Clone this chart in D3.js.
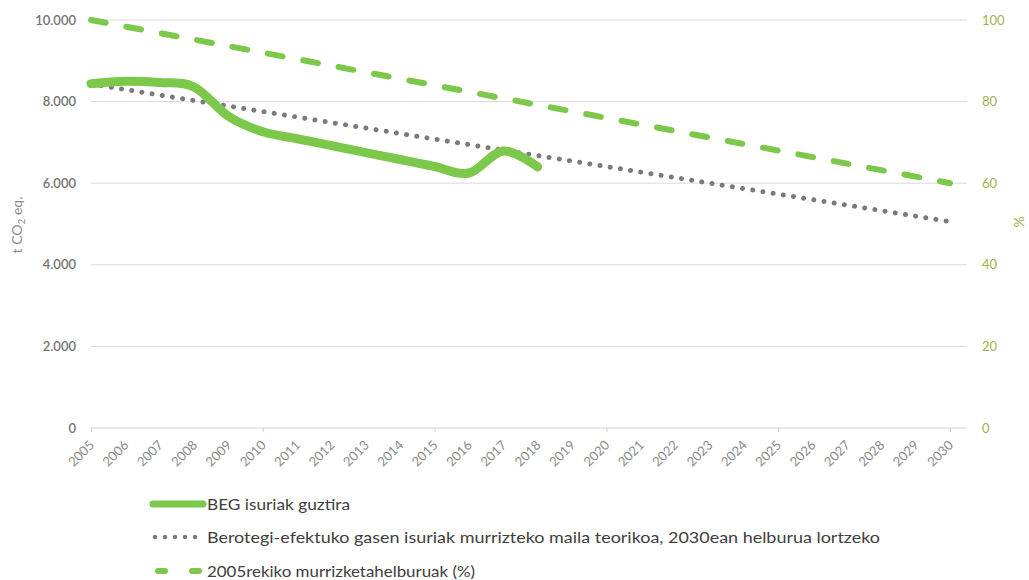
<!DOCTYPE html>
<html>
<head>
<meta charset="utf-8">
<script src="https://cdn.jsdelivr.net/npm/d3@7"></script>
<style>
  body { margin: 0; background: #fff; }
  svg { display: block; font-family: Lato, "Open Sans", sans-serif; }
</style>
</head>
<body>
<svg id="chart" width="1029" height="580"></svg>
<script>
// years on the category axis
const years = [2005, 2006, 2007, 2008, 2009, 2010, 2011, 2012, 2013, 2014, 2015, 2016, 2017,
  2018, 2019, 2020, 2021, 2022, 2023, 2024, 2025, 2026, 2027, 2028, 2029, 2030];

// BEG isuriak guztira (t CO2 eq.), 2005-2018
const begYears = [2005, 2006, 2007, 2008, 2009, 2010, 2011, 2012, 2013, 2014, 2015, 2016, 2017, 2018];
const begValues = [8440, 8500, 8470, 8360, 7640, 7260, 7090, 6920, 6750, 6580, 6410, 6250, 6790, 6400];

// theoretical reduction path (t CO2 eq.)
const pathValues = [8430, 8295, 8160, 8025, 7890, 7756, 7621, 7486, 7351, 7216, 7081, 6946, 6811,
  6677, 6542, 6407, 6272, 6137, 6002, 5867, 5732, 5598, 5463, 5328, 5193, 5058];

// reduction targets vs 2005 (%)
const targetValues = [100, 98.4, 96.8, 95.2, 93.6, 92, 90.4, 88.8, 87.2, 85.6, 84, 82.4, 80.8,
  79.2, 77.6, 76, 74.4, 72.8, 71.2, 69.6, 68, 66.4, 64.8, 63.2, 61.6, 60];

const leftTicks = [0, 2000, 4000, 6000, 8000, 10000];
const rightTicks = [0, 20, 40, 60, 80, 100];
const legendLabels = [
  'BEG isuriak guztira',
  'Berotegi-efektuko gasen isuriak murrizteko maila teorikoa, 2030ean helburua lortzeko',
  '2005rekiko murrizketahelburuak (%)'
];

const green = '#7cc84b';
const grey = '#7a7a7a';

const svg = d3.select('#chart');
const x = d3.scaleLinear().domain([2005, 2030]).range([91, 950]);
const yL = d3.scaleLinear().domain([0, 10000]).range([428, 20]);
const yR = d3.scaleLinear().domain([0, 100]).range([428, 20]);
const plotRight = 967;

// gridlines
svg.append('g')
  .selectAll('line')
  .data(leftTicks.slice(1))
  .join('line')
    .attr('x1', 91).attr('x2', plotRight)
    .attr('y1', d => yL(d)).attr('y2', d => yL(d))
    .attr('stroke', '#d9d9d9').attr('stroke-width', 1);

// x axis
const xAxis = svg.append('g').attr('transform', `translate(0,${yL(0)})`)
  .call(d3.axisBottom(x).tickValues(years.filter(d => (d - 2005) % 5 === 0)).tickSize(4).tickFormat(''));
xAxis.select('.domain').attr('d', `M91,0H${plotRight}`).attr('stroke', '#d0d0d0');
xAxis.selectAll('.tick line').attr('stroke', '#d0d0d0');

svg.append('g')
  .selectAll('text')
  .data(years)
  .join('text')
    .attr('transform', d => `translate(${x(d) + 4},446) rotate(-45)`)
    .attr('text-anchor', 'end')
    .attr('fill', '#8a8a8a')
    .attr('font-size', 13)
    .text(d => d);

// left axis
const left = svg.append('g').attr('transform', 'translate(76,0)')
  .call(d3.axisLeft(yL).tickValues(leftTicks).tickSize(0).tickPadding(0)
    .tickFormat(d => d3.format(',')(d).replace(/,/g, '.')));
left.select('.domain').remove();
left.selectAll('text').attr('fill', '#737373').attr('font-size', 13)
  .attr('font-weight', 600).attr('font-family', 'Lato, sans-serif');

// right axis
const right = svg.append('g').attr('transform', 'translate(982,0)')
  .call(d3.axisRight(yR).tickValues(rightTicks).tickSize(0).tickPadding(0));
right.select('.domain').remove();
right.selectAll('text').attr('fill', '#a3b050').attr('font-size', 13).attr('font-family', 'Lato, sans-serif');

// axis titles
const leftTitle = svg.append('text')
  .attr('transform', 'translate(22,225) rotate(-90)')
  .attr('text-anchor', 'middle')
  .attr('fill', '#8c8c8c')
  .attr('font-size', 14);
leftTitle.append('tspan').text('t CO');
leftTitle.append('tspan').attr('font-size', 10).attr('dy', 3).text('2');
leftTitle.append('tspan').attr('dy', -3).text(' eq.');

svg.append('text')
  .attr('transform', 'translate(1024,222) rotate(-90)')
  .attr('text-anchor', 'middle')
  .attr('fill', '#a3b050')
  .attr('font-size', 14)
  .text('%');

// series
const targetLine = d3.line().x((d, i) => x(years[i])).y(d => yR(d));
svg.append('path')
  .attr('d', targetLine(targetValues))
  .attr('fill', 'none')
  .attr('stroke', green)
  .attr('stroke-width', 6)
  .attr('stroke-linecap', 'round')
  .attr('stroke-dasharray', '15,21');

const pathLine = d3.line().x((d, i) => x(years[i])).y(d => yL(d));
svg.append('path')
  .attr('d', pathLine(pathValues))
  .attr('fill', 'none')
  .attr('stroke', grey)
  .attr('stroke-width', 5)
  .attr('stroke-linecap', 'round')
  .attr('stroke-dasharray', '0.01,10.3');

const begLine = d3.line().curve(d3.curveCardinal)
  .x((d, i) => x(begYears[i])).y(d => yL(d));
svg.append('path')
  .attr('d', begLine(begValues))
  .attr('fill', 'none')
  .attr('stroke', green)
  .attr('stroke-width', 9)
  .attr('stroke-linecap', 'round')
  .attr('stroke-linejoin', 'round');

// legend
const legend = svg.append('g');
const ly = [504, 537, 571];
const widths = [143, 673, 268];
legend.append('line').attr('x1', 153).attr('x2', 203).attr('y1', ly[0]).attr('y2', ly[0])
  .attr('stroke', green).attr('stroke-width', 7).attr('stroke-linecap', 'round');
legend.append('line').attr('x1', 155).attr('x2', 205).attr('y1', ly[1]).attr('y2', ly[1])
  .attr('stroke', grey).attr('stroke-width', 4.5).attr('stroke-linecap', 'round')
  .attr('stroke-dasharray', '0.01,10');
legend.append('line').attr('x1', 158).attr('x2', 202).attr('y1', ly[2]).attr('y2', ly[2])
  .attr('stroke', green).attr('stroke-width', 6).attr('stroke-linecap', 'round')
  .attr('stroke-dasharray', '7,27');
legend.selectAll('text')
  .data(legendLabels)
  .join('text')
    .attr('x', 207)
    .attr('y', (d, i) => ly[i] + 5.5)
    .attr('fill', '#404040')
    .attr('font-size', 16)
    .attr('textLength', (d, i) => widths[i])
    .attr('lengthAdjust', 'spacingAndGlyphs')
    .text(d => d);
</script>
</body>
</html>
